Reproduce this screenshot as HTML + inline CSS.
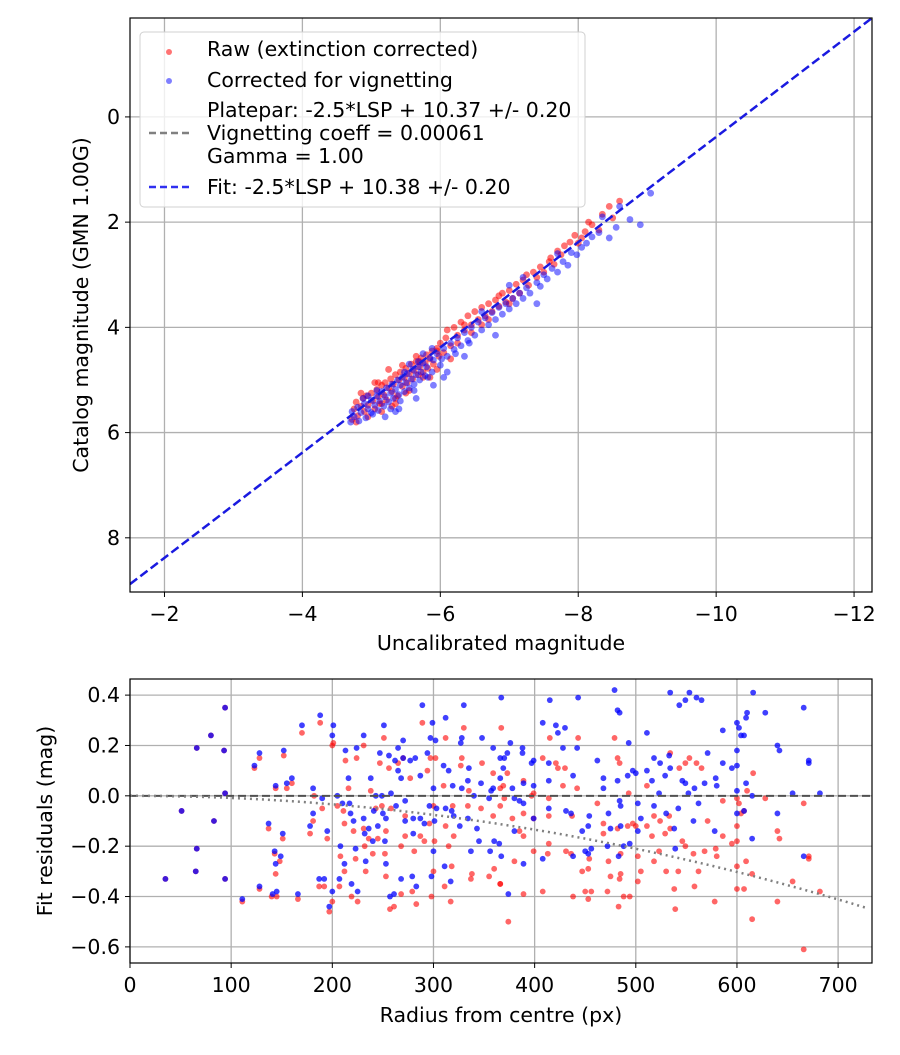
<!DOCTYPE html>
<html><head><meta charset="utf-8"><style>
body{margin:0;background:#fff}
svg text{font-family:"DejaVu Sans","Liberation Sans",sans-serif;fill:#000}
</style></head><body>
<svg id="chart" width="900" height="1050" viewBox="0 0 900 1050" xmlns="http://www.w3.org/2000/svg">
<rect width="900" height="1050" fill="#fff"/>
<g id="top"></g>
<g id="bot"></g>
</svg>
<script>
// ---- top chart data ----
const topXTicks=[-2,-4,-6,-8,-10,-12];
const topYTicks=[0,2,4,6,8];
const fitIntercept=10.38;
const rawX=[-4.72,-4.75,-4.78,-4.80,-4.85,-4.88,-4.90,-4.93,-4.95,-5.00,-5.02,-5.05,-5.08,-5.10,-5.12,-5.15,-5.18,-5.20,-5.22,-5.25,-5.28,-5.30,-5.32,-5.35,-5.38,-5.40,-5.42,-5.45,-5.48,-5.50,-5.52,-5.55,-5.58,-5.60,-5.62,-5.65,-5.68,-5.70,-5.72,-5.75,-5.78,-5.80,-5.82,-5.85,-5.88,-5.90,-5.95,-5.98,-6.00,-6.05,-6.08,-6.10,-6.15,-6.20,-6.25,-6.30,-6.35,-6.40,-6.45,-6.50,-6.55,-6.60,-6.65,-6.70,-6.75,-6.80,-6.85,-6.90,-6.95,-7.00,-7.05,-7.10,-7.15,-7.20,-7.28,-7.35,-7.40,-7.45,-7.50,-7.58,-7.65,-7.70,-7.75,-7.80,-7.88,-7.95,-8.00,-8.05,-8.10,-8.20,-8.35,-8.45,-8.50,-8.60,-5.55,-5.85,-6.15,-5.35,-6.70,-7.00,-5.15,-4.95,-4.85,-5.05,-5.25,-5.45,-5.65,-5.15,-5.35,-5.75,-5.95,-6.25,-6.45,-6.60,-5.50,-5.30,-4.78,-5.95,-6.35,-6.85,-7.25,-7.60,-8.15,-8.30,-5.10,-5.70];
const rawMag=[5.75,5.55,5.42,5.68,5.50,5.35,5.60,5.30,5.48,5.25,5.40,5.55,5.18,5.32,5.45,5.10,5.28,5.05,5.38,5.15,4.98,5.22,5.08,4.90,5.30,5.00,4.85,5.12,4.95,4.78,5.05,4.88,4.70,4.98,4.82,4.65,4.90,4.75,4.58,4.85,4.68,4.52,4.78,4.60,4.45,4.70,4.40,4.55,4.30,4.48,4.20,4.05,4.35,4.00,4.15,3.90,4.05,3.78,3.95,3.70,3.85,3.62,3.78,3.55,3.70,3.48,3.60,3.35,3.52,3.30,3.45,3.18,3.35,3.10,3.20,2.95,3.05,2.85,2.95,2.75,2.80,2.55,2.62,2.45,2.38,2.25,2.40,2.30,2.18,2.05,1.85,1.70,1.92,1.60,5.20,4.95,4.60,5.45,3.85,3.55,5.60,5.70,5.25,5.05,4.80,4.72,4.55,5.45,5.35,4.95,4.80,4.30,4.10,3.95,5.25,5.50,5.80,4.45,3.95,3.40,3.00,2.68,2.00,2.15,5.05,4.65];
const corrX=[-4.70,-4.72,-4.75,-4.80,-4.82,-4.85,-4.90,-4.92,-4.95,-5.00,-5.02,-5.05,-5.08,-5.10,-5.12,-5.15,-5.18,-5.20,-5.22,-5.25,-5.28,-5.30,-5.32,-5.35,-5.38,-5.40,-5.42,-5.45,-5.48,-5.50,-5.52,-5.55,-5.58,-5.60,-5.62,-5.65,-5.68,-5.70,-5.72,-5.75,-5.78,-5.80,-5.85,-5.88,-5.90,-5.95,-6.00,-6.05,-6.10,-6.15,-6.20,-6.25,-6.30,-6.35,-6.40,-6.45,-6.50,-6.55,-6.60,-6.65,-6.70,-6.75,-6.80,-6.85,-6.90,-6.95,-7.00,-7.05,-7.10,-7.15,-7.20,-7.25,-7.30,-7.40,-7.45,-7.50,-7.55,-7.62,-7.70,-7.78,-7.85,-7.90,-7.98,-8.05,-8.12,-8.20,-8.30,-8.45,-8.55,-8.75,-8.90,-9.05,-5.90,-6.35,-6.10,-5.40,-7.40,-6.80,-6.05,-5.65,-4.88,-5.08,-5.28,-5.48,-5.68,-5.88,-5.20,-5.42,-5.62,-5.82,-6.02,-6.22,-6.42,-5.00,-5.55,-5.75,-6.60,-7.00,-7.20,-7.70,-8.35,-8.60,-4.95,-5.35];
const corrMag=[5.80,5.60,5.70,5.52,5.78,5.62,5.45,5.72,5.55,5.38,5.65,5.48,5.30,5.58,5.40,5.22,5.50,5.32,5.15,5.42,5.25,5.08,5.35,5.18,5.00,5.28,5.10,4.95,5.22,5.05,4.88,5.15,4.98,4.80,5.08,4.90,4.75,5.00,4.85,4.68,4.92,4.75,4.58,4.85,4.62,4.50,4.72,4.40,4.55,4.30,4.42,4.20,4.35,4.10,4.25,4.00,4.15,3.90,4.05,3.82,3.95,3.72,3.85,3.62,3.75,3.55,3.65,3.45,3.55,3.35,3.45,3.25,3.35,3.15,3.22,3.00,3.08,2.88,2.95,2.75,2.82,2.58,2.62,2.48,2.40,2.28,2.20,2.30,2.10,1.95,2.05,1.45,5.10,4.55,4.85,5.55,3.55,4.15,4.95,5.35,5.35,5.20,5.55,4.85,4.65,4.40,5.70,5.40,5.20,4.95,4.60,4.50,4.30,5.62,4.70,4.50,3.70,3.20,3.05,2.60,1.90,1.70,5.30,5.60];
// ---- bottom chart data ----
const botXTicks=[0,100,200,300,400,500,600,700];
const botYTicks=[0.4,0.2,0.0,-0.2,-0.4,-0.6];
const vignetteQuad=8.4e-7;
const resRawR=[35,51,66,66,65,80,83,94,93,94,94,111,123,128,128,137,140,145,144,143,148,144,151,152,155,160,166,170,182,181,178,188,190,187,192,195,197,200,201,200,205,207,208,211,212,213,216,212,219,221,223,224,225,231,231,232,233,236,238,240,243,245,247,249,251,252,253,253,256,257,258,261,265,268,268,270,272,272,277,279,281,283,287,289,291,294,296,297,298,300,300,301,302,310,311,312,312,315,317,318,319,320,327,328,330,334,335,337,338,347,348,355,359,360,359,366,366,367,373,369,370,366,378,380,389,385,389,389,389,374,366,397,399,399,399,408,408,414,414,414,413,415,421,423,430,428,431,436,437,438,442,443,447,450,453,453,454,456,462,468,468,472,473,475,479,482,484,482,484,485,485,483,488,492,493,494,497,500,502,505,502,511,511,516,518,518,523,524,529,530,533,534,534,538,539,542,543,546,549,549,553,557,558,560,562,565,568,571,578,579,580,586,586,595,600,600,600,600,602,604,607,607,609,610,615,615,616,628,640,642,640,655,666,666,671,671,682,600];
const resRaw=[-0.33,-0.06,0.19,-0.21,-0.30,0.24,-0.10,0.35,0.18,0.01,-0.33,-0.42,0.11,0.15,-0.37,-0.13,-0.40,-0.40,0.03,-0.23,-0.26,-0.31,-0.17,0.16,0.03,0.05,-0.41,0.25,0,-0.10,-0.15,0.29,-0.05,-0.36,-0.36,-0.17,-0.46,-0.42,0.21,0.20,-0.04,-0.36,-0.24,-0.06,-0.30,0.14,0.03,-0.11,-0.40,-0.14,-0.25,0.15,-0.42,0.20,-0.13,-0.20,-0.30,-0.17,0.02,-0.23,-0.05,-0.17,0.13,-0.04,0.23,-0.23,-0.32,-0.14,0.11,-0.45,-0.05,-0.44,0.13,-0.20,-0.39,0.15,-0.08,-0.16,0.07,-0.38,-0.22,-0.43,-0.16,0.29,-0.18,0.10,-0.11,0.15,-0.40,-0.04,-0.30,-0.18,0.15,0.04,-0.36,0.23,-0.12,-0.20,-0.42,-0.28,-0.04,-0.16,0.12,0.15,0.27,-0.04,0.02,-0.33,-0.31,-0.05,0.13,-0.32,0.09,-0.29,-0.08,0.03,-0.35,0.27,0.09,0.04,-0.01,-0.04,-0.09,-0.26,-0.16,-0.14,-0.07,0.06,-0.39,-0.50,-0.35,0,0.01,-0.09,-0.22,0.15,-0.38,-0.01,-0.08,-0.19,-0.23,0.23,0.13,0.11,0.11,0.04,-0.22,-0.23,-0.08,-0.40,0.03,0.23,-0.30,-0.38,-0.29,-0.41,-0.25,-0.38,-0.03,-0.11,-0.15,-0.38,-0.26,-0.32,0.23,0.15,0.13,-0.13,-0.33,-0.31,-0.23,-0.44,-0.40,-0.12,0.01,-0.40,-0.11,-0.12,-0.24,-0.30,-0.34,-0.12,0.04,-0.16,-0.08,-0.26,-0.22,-0.10,-0.15,-0.30,-0.08,0.17,-0.13,-0.37,-0.45,-0.30,0.11,-0.18,-0.20,0.13,0.15,-0.23,-0.36,0.13,-0.30,0.11,-0.22,-0.10,-0.42,-0.21,-0.24,-0.02,-0.16,-0.19,-0.12,-0.18,-0.28,-0.37,-0.03,-0.07,-0.37,-0.06,-0.26,0.02,-0.31,-0.49,0.09,-0.01,-0.14,-0.17,-0.42,-0.34,-0.03,-0.61,-0.24,-0.25,-0.38,-0.01];
const resCorrR=[35,51,66,66,65,80,83,94,93,94,94,111,123,128,128,137,141,145,144,143,149,144,151,152,155,160,166,170,181,181,178,188,190,187,192,195,197,200,201,200,205,207,208,210,212,213,216,217,218,219,221,223,224,225,231,231,232,233,236,238,240,241,243,245,247,249,250,251,252,253,253,256,257,258,261,262,263,265,265,268,268,270,270,272,272,277,279,280,280,282,283,287,287,289,291,294,296,297,299,300,300,301,302,303,298,310,311,312,312,315,317,318,319,320,326,327,328,328,330,334,334,335,337,340,343,345,347,348,355,356,357,359,360,359,365,366,367,367,376,370,373,369,366,378,380,385,389,380,374,389,388,388,397,399,399,399,389,408,415,414,414,414,408,421,423,430,428,431,436,438,438,442,443,447,450,453,454,453,456,462,468,468,473,472,475,479,482,484,482,484,485,485,483,488,492,493,494,497,500,502,505,502,511,511,516,518,518,523,524,529,530,533,534,534,538,539,542,543,546,549,549,552,553,557,558,560,562,565,568,571,578,579,580,586,586,595,600,600,600,600,600,602,604,607,609,610,609,615,615,616,628,640,642,640,655,666,666,671,671,682,607];
const resCorr=[-0.33,-0.06,0.19,-0.21,-0.30,0.24,-0.10,0.35,0.18,0.01,-0.33,-0.41,0.12,0.17,-0.36,-0.11,-0.39,-0.38,0.04,-0.22,-0.24,-0.27,-0.15,0.18,0.05,0.07,-0.39,0.28,0.03,-0.07,-0.12,0.32,-0.01,-0.33,-0.33,-0.14,-0.44,-0.38,0.28,0.24,0,-0.33,-0.20,-0.03,-0.27,0.18,0.07,-0.03,-0.07,-0.35,-0.10,-0.21,0.19,-0.38,0.24,-0.09,-0.15,-0.26,-0.13,0.07,-0.18,-0.06,0,-0.12,0.17,0,-0.07,0.28,-0.18,-0.27,-0.09,0.16,-0.40,0.01,-0.39,0.14,-0.04,0.10,0.19,0.07,-0.33,0.22,0.15,-0.10,-0.02,0.14,-0.32,-0.09,-0.15,0.15,-0.36,-0.09,0.08,0.36,-0.11,0.17,-0.04,0.23,0.29,0.03,-0.22,-0.10,0.22,-0.05,-0.32,0.12,-0.28,0.31,-0.05,0.10,-0.34,-0.06,0.04,-0.08,-0.12,0.21,0.23,0.03,0.36,0.06,-0.09,0.11,-0.22,0,-0.13,-0.18,0.05,0.23,-0.01,-0.22,0.02,0.19,-0.18,0.03,-0.19,0.15,-0.24,0.39,0.21,0.15,0.17,0.11,0.07,0.03,-0.01,-0.02,-0.03,-0.14,-0.39,-0.27,0.19,0.17,0.13,0.14,0.04,-0.09,0.05,0.29,0.38,0.13,0.06,-0.05,-0.25,0.28,0.25,0.27,0.19,-0.06,-0.07,0.08,-0.24,0.19,0.39,-0.14,-0.22,-0.12,-0.08,-0.23,-0.21,0.14,0.07,0.03,-0.07,-0.20,-0.13,0.42,0.34,0.33,0.06,-0.02,-0.04,-0.12,-0.24,-0.20,0.08,0.21,-0.19,0.10,0.09,-0.03,-0.09,-0.14,0.10,0.25,0.06,0.15,-0.04,0.01,0.13,0.08,-0.07,0.16,0.11,0.41,-0.13,-0.21,-0.05,0.36,0.06,0.05,0.38,0.01,0.41,-0.10,0.03,0.39,-0.03,0.38,0.05,0.17,-0.14,0.07,0.04,0.26,0.13,0.11,0.18,0.12,0.02,-0.07,0.29,0.27,0.24,0.24,0.31,0.33,0.05,0,-0.17,0.41,0.33,0.20,0.18,-0.07,0.01,0.35,-0.24,0.14,0.13,0.01,-0.06];

const NS='http://www.w3.org/2000/svg';
const FS=20.5;
function mk(parent,tag,attrs){const e=document.createElementNS(NS,tag);for(const k in attrs)e.setAttribute(k,attrs[k]);parent.appendChild(e);return e;}
function fmt(v,d){const s=v.toFixed(d);return s.startsWith('-')?'\u2212'+s.slice(1):s;}

// ---- TOP ----
const T={l:130,r:872,t:18,b:592,x0:-1.5,x1:-12.26,y0:-1.88,y1:9.03};
const tx=v=>T.l+(v-T.x0)/(T.x1-T.x0)*(T.r-T.l);
const ty=v=>T.t+(v-T.y0)/(T.y1-T.y0)*(T.b-T.t);
const gTop=document.getElementById('top');
const ct=mk(gTop,'clipPath',{id:'ct'});mk(ct,'rect',{x:T.l,y:T.t,width:T.r-T.l,height:T.b-T.t});
topXTicks.forEach(v=>{
  const g=mk(gTop,'line',{x1:tx(v),x2:tx(v),y1:T.t,y2:T.b,stroke:'#b0b0b0','stroke-width':1.3});
  
  
  mk(gTop,'line',{x1:tx(v),x2:tx(v),y1:T.b,y2:T.b+5,stroke:'#000','stroke-width':1});
  const t=mk(gTop,'text',{x:tx(v),y:T.b+29,'text-anchor':'middle','font-size':FS});
  t.textContent=fmt(v,0);
  
  
});
topYTicks.forEach(v=>{
  const g=mk(gTop,'line',{x1:T.l,x2:T.r,y1:ty(v),y2:ty(v),stroke:'#b0b0b0','stroke-width':1.3});
  
  
  mk(gTop,'line',{x1:T.l-5,x2:T.l,y1:ty(v),y2:ty(v),stroke:'#000','stroke-width':1});
  const t=mk(gTop,'text',{x:T.l-10,y:ty(v)+7,'text-anchor':'end','font-size':FS});
  t.textContent=fmt(v,0);
  
  
});
const gPts=mk(gTop,'g',{'clip-path':'url(#ct)'});
rawX.forEach((x,i)=>{
  const c=mk(gPts,'circle',{cx:tx(x),cy:ty(rawMag[i]),r:3.4,fill:'#ff0000','fill-opacity':0.55});
  
  
});
corrX.forEach((x,i)=>{
  const c=mk(gPts,'circle',{cx:tx(x),cy:ty(corrMag[i]),r:3.4,fill:'#0000ff','fill-opacity':0.5});
  
  
});
const fitLine=mk(gPts,'line',{x1:tx(T.x0),y1:ty(T.x0+fitIntercept),x2:tx(T.x1),y2:ty(T.x1+fitIntercept),stroke:'#1a1ae0','stroke-width':2.5,'stroke-dasharray':'9,4'});


mk(gTop,'rect',{x:T.l,y:T.t,width:T.r-T.l,height:T.b-T.t,fill:'none',stroke:'#000','stroke-width':1.2});
const xl=mk(gTop,'text',{x:501,y:650,'text-anchor':'middle','font-size':FS});xl.textContent='Uncalibrated magnitude';


const yl=mk(gTop,'text',{x:0,y:0,'text-anchor':'middle','font-size':FS,transform:'translate(88,305) rotate(-90)'});yl.textContent='Catalog magnitude (GMN 1.00G)';


// legend
const lg=mk(gTop,'g',{});


mk(lg,'rect',{x:140,y:32,width:445,height:175,rx:4,fill:'#fff','fill-opacity':0.8,stroke:'#d0d0d0','stroke-width':1});
mk(lg,'circle',{cx:169,cy:52,r:3,fill:'#ff0000','fill-opacity':0.55});
mk(lg,'circle',{cx:169,cy:81,r:3,fill:'#0000ff','fill-opacity':0.5});
mk(lg,'line',{x1:149,x2:190,y1:133,y2:133,stroke:'#808080','stroke-width':2.5,'stroke-dasharray':'7,4'});
mk(lg,'line',{x1:149,x2:190,y1:187,y2:187,stroke:'#3030f0','stroke-width':2.5,'stroke-dasharray':'7,4'});
[['Raw (extinction corrected)',56],['Corrected for vignetting',87],['Platepar: -2.5*LSP + 10.37 +/- 0.20',117],['Vignetting coeff = 0.00061',140],['Gamma = 1.00',163],['Fit: -2.5*LSP + 10.38 +/- 0.20',194]].forEach(a=>{
  const t=mk(lg,'text',{x:207,y:a[1],'font-size':FS});t.textContent=a[0];
  
  
});

// ---- BOTTOM ----
const B={l:130,r:872,t:679,b:963,x0:0,x1:733.5,y0:0.464,y1:-0.664};
const bx=v=>B.l+(v-B.x0)/(B.x1-B.x0)*(B.r-B.l);
const by=v=>B.t+(v-B.y0)/(B.y1-B.y0)*(B.b-B.t);
const gB=document.getElementById('bot');
const cb=mk(gB,'clipPath',{id:'cb'});mk(cb,'rect',{x:B.l,y:B.t,width:B.r-B.l,height:B.b-B.t});
botXTicks.forEach(v=>{
  const g=mk(gB,'line',{x1:bx(v),x2:bx(v),y1:B.t,y2:B.b,stroke:'#b0b0b0','stroke-width':1.3});
  
  
  mk(gB,'line',{x1:bx(v),x2:bx(v),y1:B.b,y2:B.b+5,stroke:'#000','stroke-width':1});
  const t=mk(gB,'text',{x:bx(v),y:B.b+29,'text-anchor':'middle','font-size':FS});
  t.textContent=String(v);
  
  
});
botYTicks.forEach(v=>{
  const g=mk(gB,'line',{x1:B.l,x2:B.r,y1:by(v),y2:by(v),stroke:'#b0b0b0','stroke-width':1.3});
  
  
  mk(gB,'line',{x1:B.l-5,x2:B.l,y1:by(v),y2:by(v),stroke:'#000','stroke-width':1});
  const t=mk(gB,'text',{x:B.l-10,y:by(v)+7,'text-anchor':'end','font-size':FS});
  t.textContent=fmt(v,1);
  
  
});
const gBP=mk(gB,'g',{'clip-path':'url(#cb)'});
resRawR.forEach((r,i)=>{
  const c=mk(gBP,'circle',{cx:bx(r),cy:by(resRaw[i]),r:2.9,fill:'#ff0000','fill-opacity':0.6});
  
  
});
resCorrR.forEach((r,i)=>{
  const c=mk(gBP,'circle',{cx:bx(r),cy:by(resCorr[i]),r:2.9,fill:'#0000ff','fill-opacity':0.75});
  
  
});
const zl=mk(gBP,'line',{x1:B.l,x2:B.r,y1:by(0),y2:by(0),stroke:'#505050','stroke-width':2,'stroke-dasharray':'8,4'});


let d='';
for(let r=0;r<=733;r+=5){d+=(r?'L':'M')+bx(r).toFixed(1)+','+by(-vignetteQuad*r*r).toFixed(1);}
const vl=mk(gBP,'path',{d:d,fill:'none',stroke:'#808080','stroke-width':2.5,'stroke-dasharray':'2,4'});


mk(gB,'rect',{x:B.l,y:B.t,width:B.r-B.l,height:B.b-B.t,fill:'none',stroke:'#000','stroke-width':1.2});
const bxl=mk(gB,'text',{x:501,y:1022,'text-anchor':'middle','font-size':FS});bxl.textContent='Radius from centre (px)';


const byl=mk(gB,'text',{x:0,y:0,'text-anchor':'middle','font-size':FS,transform:'translate(52,821) rotate(-90)'});byl.textContent='Fit residuals (mag)';


</script>
</body></html>
